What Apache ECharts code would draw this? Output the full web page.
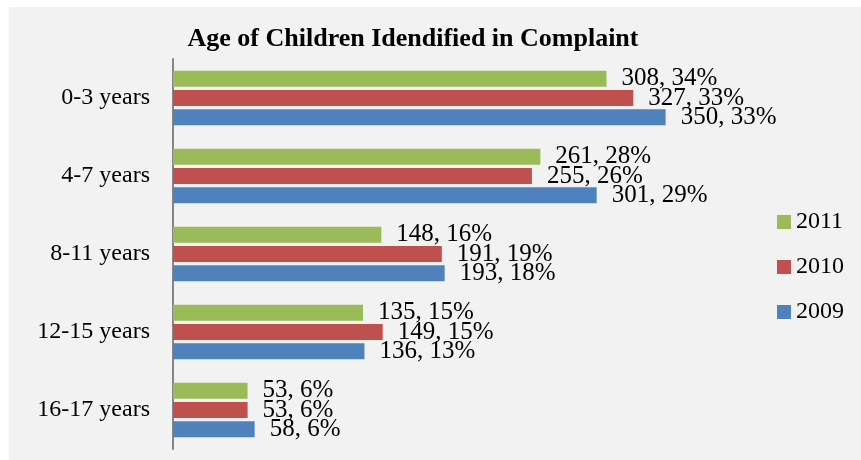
<!DOCTYPE html>
<html>
<head>
<meta charset="utf-8">
<script src="https://cdn.jsdelivr.net/npm/echarts@6/dist/echarts.min.js"></script>
<style>
  html, body { margin: 0; padding: 0; background: #ffffff; }
  #chart { position: absolute; left: 9px; top: 7px; width: 852px; height: 453px; background: #f2f2f2; }
</style>
</head>
<body>
<div id="chart"></div>
<script>
// Age groups, top to bottom
const categories = ['0-3 years', '4-7 years', '8-11 years', '12-15 years', '16-17 years'];

// Complaint counts per year
const counts2011 = [308, 261, 148, 135, 53];
const counts2010 = [327, 255, 191, 149, 53];
const counts2009 = [350, 301, 193, 136, 58];

// Share of complaints per year (%)
const pct2011 = [34, 28, 16, 15, 6];
const pct2010 = [33, 26, 19, 15, 6];
const pct2009 = [33, 29, 18, 13, 6];

const years = ['2011', '2010', '2009'];

const serif = '"Liberation Serif", "DejaVu Serif", serif';

function makeSeries(name, values, pcts, color) {
  return {
    name: name,
    type: 'bar',
    data: values,
    barCategoryGap: '30%',
    barGap: '20%',
    itemStyle: { color: color },
    label: {
      show: true,
      position: 'right',
      distance: 15,
      color: '#000',
      fontFamily: serif,
      fontSize: 25,
      formatter: p => p.value + ', ' + pcts[p.dataIndex] + '%'
    },
    emphasis: { disabled: true }
  };
}

const chart = echarts.init(document.getElementById('chart'), null, { renderer: 'canvas' });
chart.setOption({
  animation: false,
  backgroundColor: '#f2f2f2',
  title: {
    text: 'Age of Children Idendified in Complaint',
    left: 399,
    textAlign: 'center',
    top: 14,
    textStyle: { fontFamily: serif, fontSize: 26, fontWeight: 'bold', color: '#000' }
  },
  legend: {
    data: years,
    orient: 'vertical',
    left: 763,
    top: 198,
    itemWidth: 14,
    itemHeight: 14,
    itemGap: 21,
    icon: 'rect',
    textStyle: { fontFamily: serif, fontSize: 24, color: '#000', lineHeight: 24 }
  },
  grid: { left: 164, right: 125, top: 52, bottom: 11, containLabel: false },
  xAxis: {
    type: 'value',
    min: 0,
    max: 400,
    show: false
  },
  yAxis: {
    type: 'category',
    data: categories,
    inverse: true,
    axisLine: { show: true, lineStyle: { color: '#868686', width: 2 } },
    axisTick: { show: false },
    axisLabel: { margin: 23, color: '#000', fontFamily: serif, fontSize: 24 }
  },
  series: [
    makeSeries('2011', counts2011, pct2011, '#9bbb59'),
    makeSeries('2010', counts2010, pct2010, '#c0504d'),
    makeSeries('2009', counts2009, pct2009, '#4f81bd')
  ]
});
</script>
</body>
</html>
